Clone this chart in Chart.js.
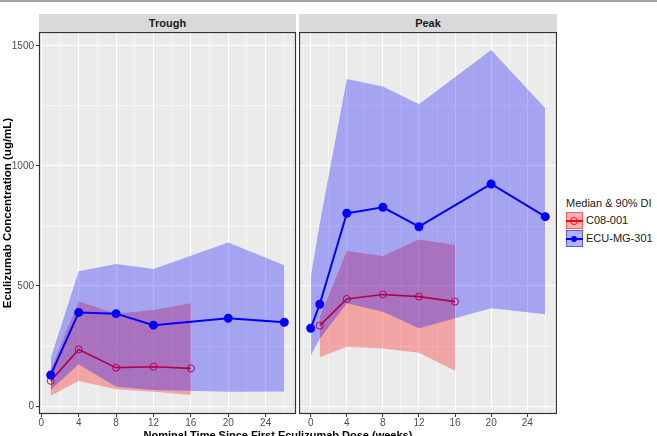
<!DOCTYPE html>
<html>
<head>
<meta charset="utf-8">
<script src="https://cdn.jsdelivr.net/npm/chart.js@4.4.0/dist/chart.umd.min.js"></script>
<style>
  body { margin: 0; background: #fff; font-family: "Liberation Sans", Arial, sans-serif; }
  #wrap { position: relative; width: 657px; height: 436px; overflow: hidden; background: #fff; }
  canvas { position: absolute; }
  .strip { position: absolute; top: 14px; height: 18px; line-height: 18px; background: #d9d9d9;
           text-align: center; font-weight: bold; font-size: 11px; color: #1a1a1a; }
  .title { position: absolute; font-weight: bold; font-size: 11px; color: #000; white-space: nowrap; }
  .leg { position: absolute; font-size: 11px; color: #1a1a1a; white-space: nowrap; }
  .key { position: absolute; width: 15px; height: 15px; }
  .kline { position: absolute; height: 2px; width: 17px; }
  .kdot { position: absolute; width: 6px; height: 6px; border-radius: 50%; }
</style>
</head>
<body>
<div id="wrap">
  <div style="position:absolute;left:0;top:0;width:657px;height:2px;background:#a0a0a0"></div>
  <div class="strip" style="left:39px;width:257px">Trough</div>
  <div class="strip" style="left:299px;width:258px">Peak</div>
  <canvas id="troughChart" width="297" height="404" style="left:0;top:32px"></canvas>
  <canvas id="peakChart" width="258" height="404" style="left:299px;top:32px"></canvas>
  <div class="title" style="left:-143px;top:206px;width:300px;height:14px;line-height:14px;text-align:center;transform:rotate(-90deg);font-size:11.5px">Eculizumab Concentration (ug/mL)</div>
  <div class="title" style="left:128px;top:429px;width:300px;text-align:center">Nominal Time Since First Eculizumab Dose (weeks)</div>

  <div class="leg" style="left:566px;top:197px">Median &amp; 90% DI</div>
  <div class="key" style="left:566px;top:212px;background:rgba(255,0,0,0.3);border:1px solid rgba(255,0,0,0.5)"></div>
  <div class="kline" style="left:566px;top:220px;background:#ff0000"></div>
  <div class="kdot" style="left:570px;top:217px;border:1px solid #ff0000;background:transparent"></div>
  <div class="leg" style="left:586px;top:214px">C08-001</div>
  <div class="key" style="left:566px;top:230px;background:rgba(0,0,255,0.3);border:1px solid rgba(0,0,255,0.5)"></div>
  <div class="kline" style="left:566px;top:238px;background:#0000ff"></div>
  <div class="kdot" style="left:571px;top:236px;background:#0000ff"></div>
  <div class="leg" style="left:586px;top:232px">ECU-MG-301</div>
</div>
<script>
// C08-001 (red) - trough
const cdWeeksTrough = [1, 4, 8, 12, 16];
const cdMedTrough = [105, 236, 160, 164, 157];
const cdLoTrough = [43, 104, 70, 60, 46];
const cdHiTrough = [150, 437, 385, 400, 428];

// ECU-MG-301 (blue) - trough
const ecuWeeksTrough = [1, 4, 8, 12, 20, 26];
const ecuMedTrough = [129, 390, 385, 337, 366, 349];
const ecuLoTrough = [67, 174, 81, 67, 60, 61];
const ecuHiTrough = [199, 562, 592, 571, 681, 587];

// C08-001 (red) - peak
const cdWeeksPeak = [1, 4, 8, 12, 16];
const cdMedPeak = [335, 446, 465, 456, 435];
const cdLoPeak = [203, 247, 240, 222, 147];
const cdHiPeak = [370, 646, 625, 694, 671];

// ECU-MG-301 (blue) - peak
const ecuWeeksPeak = [0, 1, 4, 8, 12, 20, 26];
const ecuMedPeak = [324, 424, 803, 828, 747, 925, 789];
const ecuLoPeak = [210, 280, 428, 393, 324, 407, 382];
const ecuHiPeak = [539, 760, 1362, 1331, 1257, 1483, 1240];

const xTicks = [0, 2, 4, 6, 8, 10, 12, 14, 16, 18, 20, 22, 24, 26];
const yTicks = [0, 250, 500, 750, 1000, 1250, 1500];
const yMin = -33;
const yMax = 1558;

function pts(xs, ys) {
  return xs.map((x, i) => ({ x: x, y: ys[i] }));
}

// grey panel background and dark border
const panelPlugin = {
  id: 'panel',
  beforeDraw(chart) {
    const a = chart.chartArea;
    const ctx = chart.ctx;
    ctx.save();
    ctx.fillStyle = '#ebebeb';
    ctx.fillRect(a.left, a.top, a.right - a.left, a.bottom - a.top);
    ctx.restore();
  },
  afterDraw(chart) {
    const a = chart.chartArea;
    const ctx = chart.ctx;
    ctx.save();
    ctx.strokeStyle = '#333333';
    ctx.lineWidth = 1.2;
    ctx.strokeRect(a.left + 0.5, a.top + 0.5, a.right - a.left - 1, a.bottom - a.top - 1);
    ctx.restore();
  }
};

function zeroPad(axis) {
  axis.paddingTop = 0;
  axis.paddingBottom = 0;
  axis.paddingLeft = 0;
  axis.paddingRight = 0;
}

function makePanel(id, d, xMin, xMax, showY) {
  const band = (color) => ({ borderWidth: 0, pointRadius: 0, backgroundColor: color, tension: 0 });
  const datasets = [
    { data: pts(d.ecuW, d.ecuMed), borderColor: '#0000ff', borderWidth: 2, pointRadius: 3.5,
      pointBackgroundColor: '#0000ff', pointBorderColor: '#0000ff', fill: false, tension: 0 },
    Object.assign(band('rgba(0,0,255,0.3)'), { data: pts(d.ecuW, d.ecuHi), fill: '+1' }),
    Object.assign(band('rgba(0,0,255,0.3)'), { data: pts(d.ecuW, d.ecuLo), fill: false }),
    { data: pts(d.cdW, d.cdMed), borderColor: '#ff0000', borderWidth: 1.6, pointRadius: 3.5,
      pointBackgroundColor: 'rgba(0,0,0,0)', pointBorderColor: '#ff0000', pointBorderWidth: 1, fill: false, tension: 0 },
    Object.assign(band('rgba(255,0,0,0.3)'), { data: pts(d.cdW, d.cdHi), fill: '+1' }),
    Object.assign(band('rgba(255,0,0,0.3)'), { data: pts(d.cdW, d.cdLo), fill: false })
  ];

  const tickFont = { family: 'Liberation Sans, Arial, sans-serif', size: 10 };

  return new Chart(document.getElementById(id), {
    type: 'line',
    data: { datasets: datasets },
    options: {
      responsive: false,
      animation: false,
      devicePixelRatio: 1,
      layout: { autoPadding: false, padding: { left: 0, right: showY ? 1 : 0, top: 0, bottom: 0 } },
      plugins: { legend: { display: false }, tooltip: { enabled: false } },
      scales: {
        x: {
          type: 'linear',
          min: xMin,
          max: xMax,
          afterBuildTicks: axis => { axis.ticks = xTicks.map(v => ({ value: v })); },
          afterFit: axis => { axis.height = 22; zeroPad(axis); },
          border: { display: false },
          grid: {
            color: '#ffffff',
            lineWidth: c => (c.tick && c.tick.value % 4 === 0) ? 1.1 : 0.5,
            tickColor: c => (c.tick && c.tick.value % 4 === 0) ? '#333333' : 'rgba(0,0,0,0)',
            tickLength: 3,
            tickWidth: 1
          },
          ticks: {
            autoSkip: false,
            maxRotation: 0,
            padding: 0,
            color: '#4d4d4d',
            font: tickFont,
            callback: v => v % 4 === 0 ? String(v) : ''
          }
        },
        y: {
          type: 'linear',
          min: yMin,
          max: yMax,
          afterBuildTicks: axis => { axis.ticks = yTicks.map(v => ({ value: v })); },
          afterFit: axis => { axis.width = showY ? 39 : 0; zeroPad(axis); },
          border: { display: false },
          grid: {
            color: '#ffffff',
            lineWidth: c => (c.tick && c.tick.value % 500 === 0) ? 1.1 : 0.5,
            tickColor: c => (showY && c.tick && c.tick.value % 500 === 0) ? '#333333' : 'rgba(0,0,0,0)',
            drawTicks: showY,
            tickLength: 3,
            tickWidth: 1
          },
          ticks: {
            display: showY,
            autoSkip: false,
            padding: 2,
            color: '#4d4d4d',
            font: tickFont,
            callback: v => v % 500 === 0 ? String(v) : ''
          }
        }
      }
    },
    plugins: [panelPlugin]
  });
}

makePanel('troughChart', {
  cdW: cdWeeksTrough, cdMed: cdMedTrough, cdLo: cdLoTrough, cdHi: cdHiTrough,
  ecuW: ecuWeeksTrough, ecuMed: ecuMedTrough, ecuLo: ecuLoTrough, ecuHi: ecuHiTrough
}, -0.25, 27.25, true);

makePanel('peakChart', {
  cdW: cdWeeksPeak, cdMed: cdMedPeak, cdLo: cdLoPeak, cdHi: cdHiPeak,
  ecuW: ecuWeeksPeak, ecuMed: ecuMedPeak, ecuLo: ecuLoPeak, ecuHi: ecuHiPeak
}, -1.3, 27.3, false);
</script>
</body>
</html>
